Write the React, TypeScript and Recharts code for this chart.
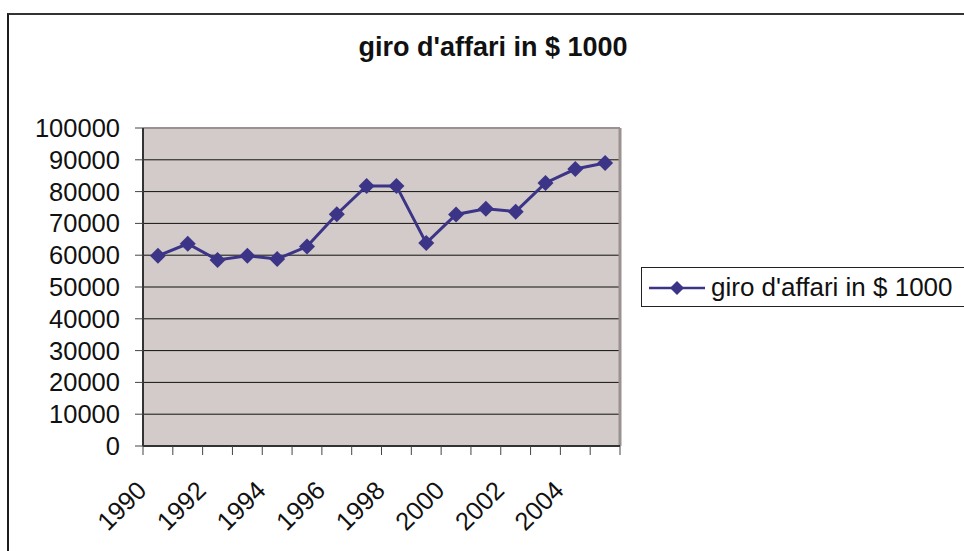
import React from "react";
import {
  LineChart,
  Line,
  XAxis,
  YAxis,
  CartesianGrid,
  ReferenceLine,
  Legend,
} from "recharts";

// values (thousand $)
const years = [
  1990, 1991, 1992, 1993, 1994, 1995, 1996, 1997, 1998, 1999, 2000, 2001, 2002,
  2003, 2004, 2005,
];
const revenue = [
  59800, 63600, 58500, 59800, 58800, 62700, 72900, 81800, 81800, 63800, 72800,
  74600, 73700, 82700, 87100, 89000,
];
const yearLabels = ["1990", "1992", "1994", "1996", "1998", "2000", "2002", "2004"];
const valueTicks = [0, 10000, 20000, 30000, 40000, 50000, 60000, 70000, 80000, 90000, 100000];
const seriesName = "giro d'affari in $ 1000";

const FONT = "'Liberation Sans', Arial, Helvetica, sans-serif";
const LINE_COLOR = "#3b3487";

const data = years.map((year, i) => ({ year, value: revenue[i] }));
// tick marks sit between the categories, like the Excel original
const boundaries = [...years.map((y) => y - 0.5), years[years.length - 1] + 0.5];

function YearTick(props: any) {
  const { x, y, payload } = props;
  const label = String(payload.value + 0.5);
  if (!yearLabels.includes(label)) return <g />;
  const ax = x + 5;
  const ay = y + 35;
  return (
    <text
      x={ax}
      y={ay}
      transform={`rotate(-45 ${ax} ${ay})`}
      textAnchor="end"
      fill="#111"
      fontSize={25.5}
      fontFamily={FONT}
    >
      {label}
    </text>
  );
}

function Diamond(props: any) {
  const { cx, cy, index } = props;
  if (cx == null || cy == null) return <g key={index} />;
  const r = 8;
  return (
    <path
      key={index}
      d={`M${cx},${cy - r}L${cx + r},${cy}L${cx},${cy + r}L${cx - r},${cy}Z`}
      fill={LINE_COLOR}
    />
  );
}

function LegendBox(props: any) {
  const name = props.payload?.[0]?.value ?? seriesName;
  return (
    <div
      style={{
        boxSizing: "border-box",
        width: 340,
        height: 40,
        border: "1.5px solid #222",
        background: "#fff",
        display: "flex",
        alignItems: "center",
        fontFamily: FONT,
        fontSize: 26,
        color: "#111",
        whiteSpace: "nowrap",
      }}
    >
      <svg width={68} height={38} style={{ flex: "none" }}>
        <line x1={7} y1={20} x2={63} y2={20} stroke={LINE_COLOR} strokeWidth={2.5} />
        <path d="M35,13L42,20L35,27L28,20Z" fill={LINE_COLOR} />
      </svg>
      <span style={{ marginLeft: 1 }}>{name}</span>
    </div>
  );
}

export default function App() {
  return (
    <div
      style={{
        position: "fixed",
        left: 0,
        top: 0,
        width: 964,
        height: 551,
        overflow: "hidden",
        background: "#fff",
      }}
    >
      <div
        style={{
          position: "absolute",
          left: 7,
          top: 13,
          width: 1000,
          height: 600,
          border: "2px solid #1c1c1c",
          borderTopColor: "#333",
        }}
      />
      <div
        style={{
          position: "absolute",
          left: 0,
          top: 34,
          width: 986,
          textAlign: "center",
          fontFamily: FONT,
          fontWeight: "bold",
          fontSize: 27,
          lineHeight: "27px",
          color: "#111",
        }}
      >
        {seriesName}
      </div>
      <div style={{ position: "absolute", left: 0, top: 0 }}>
        <LineChart
          width={964}
          height={551}
          data={data}
          margin={{ top: 128, right: 344, bottom: 15, left: 43 }}
        >
          <CartesianGrid vertical={false} stroke="#111" fill="#d3cbc9" fillOpacity={1} />
          <XAxis
            dataKey="year"
            type="number"
            domain={[boundaries[0], boundaries[boundaries.length - 1]]}
            ticks={boundaries}
            interval={0}
            height={90}
            tickSize={9}
            tickMargin={2}
            axisLine={{ stroke: "#333", strokeWidth: 2 }}
            tickLine={{ stroke: "#444" }}
            tick={<YearTick />}
          />
          <YAxis
            domain={[0, 100000]}
            ticks={valueTicks}
            interval={0}
            width={100}
            tickSize={8}
            tickMargin={15}
            axisLine={{ stroke: "#333", strokeWidth: 2 }}
            tickLine={{ stroke: "#444" }}
            tick={{ fill: "#111", fontSize: 25.5, fontFamily: FONT }}
          />
          <ReferenceLine y={100000} stroke="#9a9290" strokeWidth={2} />
          <ReferenceLine x={boundaries[boundaries.length - 1]} stroke="#9a9290" strokeWidth={3} />
          <Legend
            layout="horizontal"
            verticalAlign="middle"
            align="center"
            content={<LegendBox />}
            wrapperStyle={{ left: 641, top: 267, width: 340, height: 40 }}
          />
          <Line
            type="linear"
            dataKey="value"
            name={seriesName}
            stroke={LINE_COLOR}
            strokeWidth={3}
            dot={Diamond}
            activeDot={false}
            isAnimationActive={false}
          />
        </LineChart>
      </div>
    </div>
  );
}
